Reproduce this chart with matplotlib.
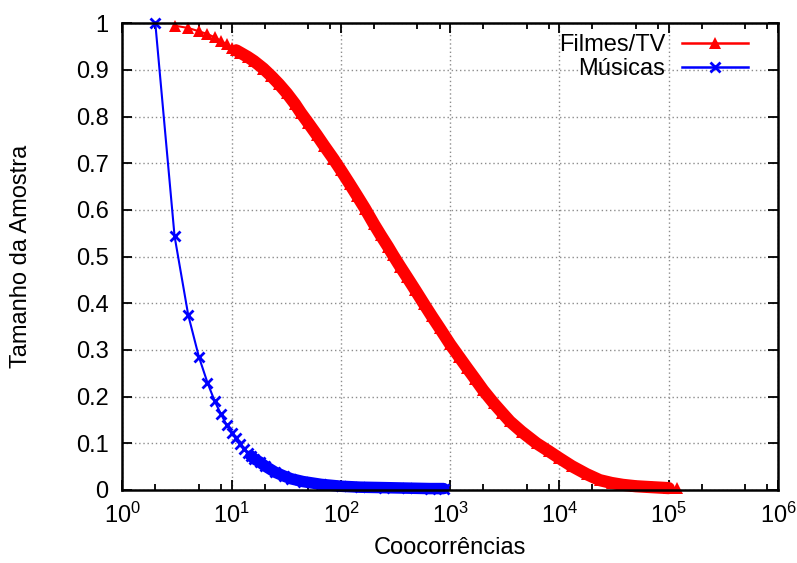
import math
import matplotlib
matplotlib.use("Agg")
import matplotlib.pyplot as plt
from matplotlib.lines import Line2D
from matplotlib.ticker import LogLocator, FixedLocator, FuncFormatter

plt.rcParams['font.family'] = ['Liberation Sans', 'DejaVu Sans']
plt.rcParams['mathtext.fontset'] = 'custom'
plt.rcParams['mathtext.rm'] = 'Liberation Sans'
plt.rcParams['mathtext.it'] = 'Liberation Sans'

# Filmes/TV: fraction of the sample vs. co-occurrence count
films_x = [3, 4, 5, 6, 7, 8, 9, 10, 11, 12, 14, 16, 19.5, 23, 27, 32, 38, 43, 50,
           60, 70, 85, 100, 120, 140, 166, 200, 231, 270, 300, 350, 400, 480,
           574, 680, 800, 1000, 1200, 1431, 1700, 2000, 2500, 3000, 3516, 4500,
           6170, 8000, 10000, 13000, 17700, 23400, 30000, 38000, 50000, 70000,
           100000, 119000]
films_y = [0.995, 0.990, 0.983, 0.977, 0.970, 0.962, 0.955, 0.948, 0.942, 0.937,
           0.928, 0.919, 0.903, 0.887, 0.870, 0.850, 0.827, 0.808, 0.787,
           0.761, 0.738, 0.710, 0.685, 0.656, 0.631, 0.603, 0.570, 0.546, 0.521,
           0.503, 0.478, 0.457, 0.428, 0.399, 0.372, 0.347, 0.312, 0.286, 0.261,
           0.237, 0.214, 0.186, 0.165, 0.147, 0.125, 0.100, 0.083, 0.068, 0.051,
           0.034, 0.021, 0.015, 0.011, 0.008, 0.006, 0.004, 0.004]

# Músicas
music_x = [2, 3, 4, 5, 6, 7, 8, 9, 10, 11, 12, 13, 14, 15, 16, 18, 20, 25, 30,
           35, 45, 66, 100, 150, 250, 400, 650, 870]
music_y = [1.0, 0.544, 0.375, 0.286, 0.230, 0.190, 0.162, 0.139, 0.123, 0.111,
           0.099, 0.088, 0.080, 0.073, 0.067, 0.060, 0.052, 0.038, 0.030,
           0.024, 0.018, 0.012, 0.008, 0.006, 0.005, 0.004, 0.003, 0.003]

x_ticks = [1, 10, 100, 1000, 10000, 100000, 1000000]
y_ticks = [0, 0.1, 0.2, 0.3, 0.4, 0.5, 0.6, 0.7, 0.8, 0.9, 1.0]

RED = '#ff0000'
BLUE = '#0000ff'
FS = 17

fig = plt.figure(figsize=(7.97, 5.63), dpi=100)
ax = fig.add_axes([0.1536, 0.1297, 0.8226, 0.8289])

ax.set_xscale('log')
ax.set_xlim(1, 1e6)
ax.set_ylim(0, 1)

# dotted grid at the major ticks
ax.grid(True, which='major', color='#8c8c8c', linestyle=(0, (1, 2)), linewidth=1.0)
ax.set_axisbelow(True)

# dense parts of each curve, where the markers merge into a band
films_band = 8
music_band = 13
ax.plot(films_x[films_band:-1], films_y[films_band:-1], color=RED, lw=8.8,
        solid_capstyle='round', solid_joinstyle='round', clip_on=False, zorder=2)
ax.plot(music_x[music_band:], music_y[music_band:], color=BLUE, lw=8.3,
        solid_capstyle='round', solid_joinstyle='round', clip_on=False, zorder=2)

ax.plot(films_x, films_y, color=RED, lw=1.5, marker='^', ms=8.5, mew=0,
        clip_on=False, zorder=3)
ax.plot(music_x, music_y, color=BLUE, lw=1.5, marker='x', ms=6.5, mew=2,
        clip_on=False, zorder=3)

# ticks
ax.xaxis.set_major_locator(FixedLocator(x_ticks))
ax.xaxis.set_minor_locator(LogLocator(base=10, subs=(2, 5, 8)))
ax.yaxis.set_major_locator(FixedLocator(y_ticks))


def xfmt(v, pos):
    e = int(round(math.log10(v)))
    return r'$\mathregular{10^{%d}}$' % e


def yfmt(v, pos):
    if abs(v) < 1e-9:
        return '0'
    if abs(v - 1) < 1e-9:
        return '1'
    return '%.1f' % v


ax.xaxis.set_major_formatter(FuncFormatter(xfmt))
ax.xaxis.set_minor_formatter(FuncFormatter(lambda v, p: ''))
ax.yaxis.set_major_formatter(FuncFormatter(yfmt))
ax.tick_params(which='both', direction='in', top=True, right=True,
               width=1.3, labelsize=FS, color='black')
ax.tick_params(which='major', length=7)
ax.tick_params(which='minor', length=4)
ax.tick_params(axis='y', pad=10)
ax.tick_params(axis='x', pad=9)

for s in ax.spines.values():
    s.set_linewidth(1.8)
    s.set_zorder(4)

ax.set_xlabel('Coocorrências', fontsize=FS)
ax.set_ylabel('Tamanho da Amostra', fontsize=FS)
ax.xaxis.set_label_coords(0.5, -0.1)
ax.yaxis.set_label_coords(-0.138, 0.5)

handles = [
    Line2D([], [], color=RED, lw=1.8, marker='^', ms=8.5, mew=0),
    Line2D([], [], color=BLUE, lw=1.8, marker='x', ms=6.5, mew=2),
]
ax.legend(handles, ['Filmes/TV', 'Músicas'], loc='upper right',
          bbox_to_anchor=(0.954, 0.977), frameon=False, markerfirst=False,
          fontsize=FS, handlelength=2.8, handletextpad=0.7, labelspacing=0.08,
          borderpad=0, borderaxespad=0)

fig.savefig('out.png', dpi=100)
